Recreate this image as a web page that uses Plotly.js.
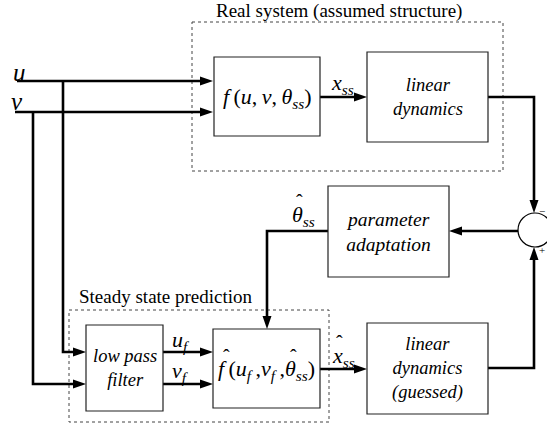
<!DOCTYPE html>
<html><head><meta charset="utf-8">
<script src="https://cdn.plot.ly/plotly-3.0.1.min.js"></script>
<style>html,body{margin:0;padding:0;background:#fff}</style>
</head><body>
<div id="chart" style="width:547px;height:423px"></div>
<script>
// ---- diagram data ----
const boxNames  = ["f", "lin", "param", "lpf", "fhat", "linGuess"];
const boxLabels = [
  "<i>f</i>\u2009(<i>u</i>,\u2009<i>v</i>,\u2009<i>θ</i><sub><i>ss</i></sub>)",
  "<i>linear</i><br><i>dynamics</i>",
  "<i>parameter</i><br><i>adaptation</i>",
  "<i>low pass</i><br><i>filter</i>",
  "<i>f</i>\u2009(<i>u</i><sub><i>f</i></sub>\u2009,<i>v</i><sub><i>f</i></sub>\u2009,<i>θ</i><sub><i>ss</i></sub>)",
  "<i>linear</i><br><i>dynamics</i><br><i>(guessed)</i>"
];
const boxFontSizes = [22, 18.5, 19.5, 18.5, 22, 18.5];
const boxX0 = [214, 367, 328, 86, 213, 367];
const boxX1 = [320, 488, 449, 163, 320, 488];
const boxY0 = [57, 52, 186, 325, 329, 323];
const boxY1 = [136, 142, 277, 411, 408, 414];

const groupLabels = ["Real system (assumed structure)", "Steady state prediction"];
const groupX0 = [192, 69];
const groupX1 = [503, 329];
const groupY0 = [22, 310];
const groupY1 = [171, 422];

// wires (polylines); every wire ends in an arrowhead
const wireX = [[17,213],[15,213],[63,63,86],[33,33,86],[320,367],[488,534,534],[518,449],[328,267,267],[163,213],[163,213],[320,367],[488,534,534]];
const wireY = [[81,81],[112,112],[81,352,352],[112,384,384],[97,97],[97,97,213],[231,231],[231,231,329],[352,352],[384,384],[369,369],[368,368,247]];

const signalLabels = ["<i>u</i>", "<i>v</i>", "<i>x</i><sub><i>ss</i></sub>", "<i>θ</i><sub><i>ss</i></sub>",
  "<i>u</i><sub><i>f</i></sub>", "<i>v</i><sub><i>f</i></sub>", "<i>x</i><sub><i>ss</i></sub>"];
const signalX = [19, 17, 342, 303, 181, 180, 343];
const signalY = [72, 101, 84, 216, 341, 372, 357];

// hats drawn over hatted symbols (f-hat, theta-hat in box, theta-hat label, x-hat label)
const hatX = [226, 293, 299, 339];
const hatY = [357, 357, 202, 343];

const junctionX = 535, junctionY = 230, junctionR = 17;

// ---- build ----
const serif = "Liberation Serif";
const traces = [];
const shapes = [];
const annotations = [];
const AL = 13, AW = 4.5;

wireX.forEach((xs, i) => {
  const ys = wireY[i].slice();
  const x = xs.slice();
  const n = x.length;
  const tx = x[n-1], ty = ys[n-1];
  const dx = tx - x[n-2], dy = ty - ys[n-2];
  const L = Math.hypot(dx, dy); const ux = dx/L, uy = dy/L;
  const bx = tx - ux*AL, by = ty - uy*AL;
  x[n-1] = tx - ux*(AL-2); ys[n-1] = ty - uy*(AL-2);
  traces.push({x: x, y: ys, mode: "lines", line: {color: "#000", width: 2.6}, hoverinfo: "skip", showlegend: false});
  const px = -uy, py = ux;
  shapes.push({type: "path", xref: "x", yref: "y",
    path: `M${tx},${ty} L${bx+px*AW},${by+py*AW} L${bx-px*AW},${by-py*AW} Z`,
    fillcolor: "#000", line: {width: 0}});
});

boxNames.forEach((n, i) => {
  shapes.push({type: "rect", xref: "x", yref: "y", x0: boxX0[i], x1: boxX1[i], y0: boxY0[i], y1: boxY1[i],
    line: {color: "#222", width: 1.2}, fillcolor: "rgba(0,0,0,0)"});
  const big = (i === 0 || i === 4);
  annotations.push({x: (boxX0[i]+boxX1[i])/2, y: (boxY0[i]+boxY1[i])/2 + (big ? 1 : 0), xref: "x", yref: "y",
    text: boxLabels[i], showarrow: false, align: "center",
    font: {family: serif, size: boxFontSizes[i], color: "#000"}});
});

groupLabels.forEach((t, i) => {
  shapes.push({type: "rect", xref: "x", yref: "y", x0: groupX0[i], x1: groupX1[i], y0: groupY0[i], y1: groupY1[i],
    line: {color: "#444", width: 1, dash: "dot"}, fillcolor: "rgba(0,0,0,0)", layer: "below"});
});
annotations.push({x: 339, y: 11, xref: "x", yref: "y", text: groupLabels[0], showarrow: false,
  font: {family: serif, size: 19, color: "#000"}});
annotations.push({x: 166, y: 296, xref: "x", yref: "y", text: groupLabels[1], showarrow: false,
  font: {family: serif, size: 19, color: "#000"}});

signalLabels.forEach((t, i) => {
  annotations.push({x: signalX[i], y: signalY[i], xref: "x", yref: "y", text: t, showarrow: false,
    font: {family: serif, size: i < 2 ? 25 : 22, color: "#000"}});
});
hatX.forEach((hx, i) => {
  annotations.push({x: hx, y: hatY[i], xref: "x", yref: "y", text: "ˆ", showarrow: false,
    font: {family: serif, size: 20, color: "#000"}});
});

shapes.push({type: "circle", xref: "x", yref: "y", x0: junctionX-junctionR, x1: junctionX+junctionR,
  y0: junctionY-junctionR, y1: junctionY+junctionR, line: {color: "#000", width: 1.2}, fillcolor: "#fff"});
annotations.push({x: 547, y: 211, xref: "x", yref: "y", text: "−", showarrow: false, xanchor: "right",
  font: {family: serif, size: 11, color: "#000"}});
annotations.push({x: 547, y: 250, xref: "x", yref: "y", text: "+", showarrow: false, xanchor: "right",
  font: {family: serif, size: 11, color: "#000"}});

const layout = {
  width: 547, height: 423,
  margin: {l: 0, r: 0, t: 0, b: 0},
  paper_bgcolor: "#fff", plot_bgcolor: "#fff",
  font: {family: serif},
  xaxis: {range: [0, 547], visible: false, fixedrange: true},
  yaxis: {range: [423, 0], visible: false, fixedrange: true},
  shapes: shapes, annotations: annotations, showlegend: false
};
Plotly.newPlot("chart", traces, layout, {staticPlot: true, displayModeBar: false});
</script>
</body></html>
